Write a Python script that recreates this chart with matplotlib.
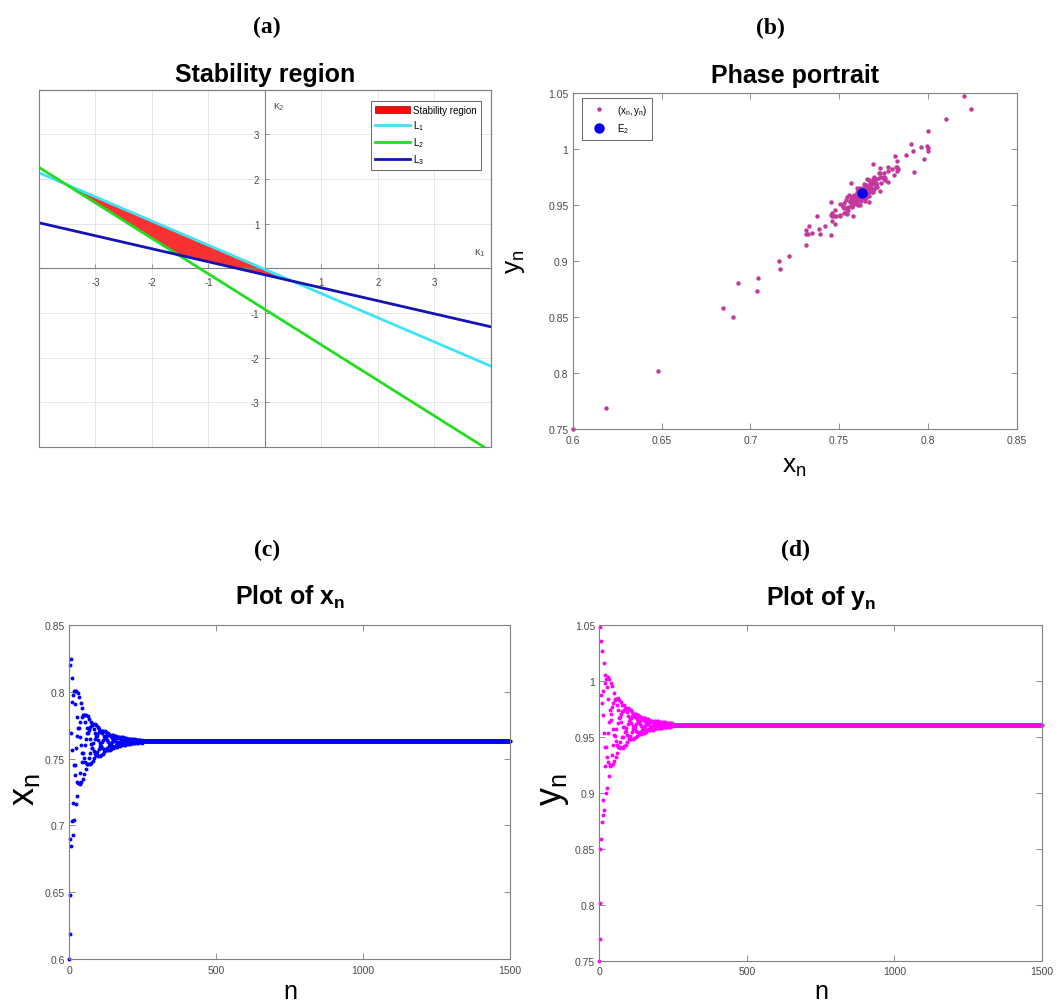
import numpy as np
import matplotlib
matplotlib.use('Agg')
import matplotlib.pyplot as plt
from matplotlib.patches import Patch, Rectangle
from matplotlib.lines import Line2D
from matplotlib.ticker import FormatStrFormatter

# --- Daten (a): Randgeraden und Stabilitaetsdreieck ---
k1_ends = [-4.0, 4.0]
L1_k2 = [2.14, -2.19]
L2_k2 = [2.26, -4.10]
L3_k2 = [1.02, -1.31]
stab_k1 = [-3.52, -1.54, 0.48]
stab_k2 = [1.88, 0.30, -0.285]

# --- Daten (b)-(d): Orbit (x_n, y_n), n = 0..249, danach am Fixpunkt E2 ---
x_head = [
    0.6000, 0.6190, 0.6480, 0.8203, 0.6900, 0.8243, 0.7688, 0.6848, 0.7036, 0.7920,
    0.8103, 0.7566, 0.6929, 0.7167, 0.7978, 0.8003, 0.7453, 0.7042, 0.7453, 0.8003,
    0.7905, 0.7375, 0.7160, 0.7579, 0.8003, 0.7815, 0.7328, 0.7220, 0.7667, 0.7993,
    0.7732, 0.7314, 0.7314, 0.7732, 0.7960, 0.7659, 0.7311, 0.7395, 0.7775, 0.7914,
    0.7599, 0.7326, 0.7475, 0.7811, 0.7876, 0.7543, 0.7350, 0.7543, 0.7824, 0.7824,
    0.7505, 0.7385, 0.7605, 0.7830, 0.7777, 0.7476, 0.7421, 0.7650, 0.7826, 0.7730,
    0.7460, 0.7460, 0.7689, 0.7820, 0.7689, 0.7457, 0.7503, 0.7715, 0.7797, 0.7647,
    0.7458, 0.7542, 0.7737, 0.7776, 0.7612, 0.7470, 0.7580, 0.7752, 0.7752, 0.7580,
    0.7483, 0.7615, 0.7757, 0.7724, 0.7555, 0.7503, 0.7643, 0.7757, 0.7695, 0.7536,
    0.7525, 0.7667, 0.7750, 0.7667, 0.7525, 0.7550, 0.7685, 0.7738, 0.7641, 0.7521,
    0.7575, 0.7698, 0.7723, 0.7619, 0.7522, 0.7598, 0.7707, 0.7707, 0.7598, 0.7528,
    0.7621, 0.7710, 0.7689, 0.7583, 0.7538, 0.7638, 0.7709, 0.7671, 0.7572, 0.7551,
    0.7653, 0.7705, 0.7653, 0.7565, 0.7565, 0.7665, 0.7698, 0.7637, 0.7563, 0.7580,
    0.7673, 0.7688, 0.7623, 0.7563, 0.7596, 0.7678, 0.7678, 0.7610, 0.7567, 0.7610,
    0.7679, 0.7666, 0.7601, 0.7573, 0.7624, 0.7679, 0.7655, 0.7594, 0.7581, 0.7635,
    0.7676, 0.7644, 0.7589, 0.7589, 0.7644, 0.7672, 0.7634, 0.7588, 0.7599, 0.7652,
    0.7666, 0.7626, 0.7589, 0.7609, 0.7657, 0.7660, 0.7618, 0.7591, 0.7618, 0.7660,
    0.7653, 0.7612, 0.7595, 0.7626, 0.7661, 0.7646, 0.7608, 0.7600, 0.7633, 0.7660,
    0.7639, 0.7606, 0.7606, 0.7639, 0.7659, 0.7633, 0.7605, 0.7611, 0.7644, 0.7656,
    0.7627, 0.7605, 0.7617, 0.7647, 0.7653, 0.7623, 0.7606, 0.7623, 0.7649, 0.7649,
    0.7619, 0.7608, 0.7628, 0.7649, 0.7644, 0.7617, 0.7612, 0.7632, 0.7649, 0.7640,
    0.7615, 0.7615, 0.7636, 0.7648, 0.7636, 0.7615, 0.7619, 0.7638, 0.7646, 0.7632,
    0.7614, 0.7622, 0.7640, 0.7644, 0.7628, 0.7615, 0.7625, 0.7641, 0.7641, 0.7625,
    0.7617, 0.7629, 0.7642, 0.7639, 0.7623, 0.7619, 0.7631, 0.7642, 0.7636, 0.7622,
    0.7621, 0.7633, 0.7641, 0.7633, 0.7621, 0.7623, 0.7635, 0.7640, 0.7631, 0.7620,
]
y_head = [
    0.7500, 0.7690, 0.8015, 1.0476, 0.8500, 1.0357, 0.9872, 0.8584, 0.8736, 0.9797,
    1.0268, 0.9698, 0.8805, 0.8933, 0.9911, 1.0162, 0.9531, 0.8847, 0.9237, 0.9980,
    1.0051, 0.9406, 0.9001, 0.9405, 1.0015, 0.9943, 0.9318, 0.9042, 0.9529, 1.0033,
    0.9836, 0.9274, 0.9147, 0.9631, 1.0018, 0.9736, 0.9246, 0.9240, 0.9703, 0.9980,
    0.9652, 0.9244, 0.9336, 0.9767, 0.9949, 0.9570, 0.9255, 0.9422, 0.9802, 0.9894,
    0.9511, 0.9284, 0.9504, 0.9826, 0.9841, 0.9460, 0.9318, 0.9566, 0.9837, 0.9786,
    0.9428, 0.9357, 0.9622, 0.9843, 0.9736, 0.9411, 0.9406, 0.9664, 0.9826, 0.9680,
    0.9401, 0.9452, 0.9702, 0.9809, 0.9632, 0.9405, 0.9498, 0.9731, 0.9786, 0.9586,
    0.9403, 0.9500, 0.9728, 0.9787, 0.9587, 0.9413, 0.9541, 0.9747, 0.9756, 0.9547,
    0.9430, 0.9580, 0.9755, 0.9722, 0.9518, 0.9454, 0.9614, 0.9754, 0.9687, 0.9497,
    0.9480, 0.9643, 0.9747, 0.9654, 0.9483, 0.9509, 0.9666, 0.9736, 0.9621, 0.9477,
    0.9540, 0.9682, 0.9720, 0.9594, 0.9478, 0.9565, 0.9693, 0.9700, 0.9569, 0.9485,
    0.9590, 0.9699, 0.9678, 0.9551, 0.9497, 0.9612, 0.9699, 0.9657, 0.9539, 0.9510,
    0.9629, 0.9694, 0.9636, 0.9529, 0.9527, 0.9643, 0.9687, 0.9615, 0.9526, 0.9545,
    0.9652, 0.9675, 0.9599, 0.9527, 0.9563, 0.9659, 0.9663, 0.9583, 0.9531, 0.9580,
    0.9663, 0.9651, 0.9571, 0.9537, 0.9595, 0.9664, 0.9637, 0.9563, 0.9546, 0.9610,
    0.9660, 0.9625, 0.9559, 0.9557, 0.9620, 0.9657, 0.9612, 0.9556, 0.9568, 0.9629,
    0.9650, 0.9600, 0.9557, 0.9579, 0.9635, 0.9642, 0.9591, 0.9559, 0.9590, 0.9639,
    0.9633, 0.9586, 0.9564, 0.9599, 0.9641, 0.9625, 0.9581, 0.9569, 0.9609, 0.9641,
    0.9616, 0.9577, 0.9576, 0.9615, 0.9640, 0.9609, 0.9575, 0.9583, 0.9621, 0.9637,
    0.9602, 0.9574, 0.9589, 0.9624, 0.9633, 0.9598, 0.9577, 0.9596, 0.9626, 0.9628,
    0.9592, 0.9580, 0.9603, 0.9628, 0.9623, 0.9590, 0.9584, 0.9606, 0.9627, 0.9618,
    0.9587, 0.9587, 0.9611, 0.9627, 0.9611, 0.9586, 0.9590, 0.9614, 0.9624, 0.9608,
    0.9587, 0.9596, 0.9617, 0.9622, 0.9603, 0.9588, 0.9599, 0.9618, 0.9619, 0.9600,
    0.9590, 0.9602, 0.9619, 0.9616, 0.9598, 0.9592, 0.9606, 0.9619, 0.9612, 0.9594,
]
x_star = 0.7630   # Fixpunkt E2
y_star = 0.9605
n_max = 1500

n_vals = np.arange(n_max + 1)
x_n = np.array(x_head + [x_star] * (n_max + 1 - len(x_head)))
y_n = np.array(y_head + [y_star] * (n_max + 1 - len(y_head)))

# --- Stil ---
plt.rcParams['font.family'] = 'Liberation Sans'
plt.rcParams['mathtext.fontset'] = 'custom'
plt.rcParams['mathtext.rm'] = 'Liberation Sans'
plt.rcParams['mathtext.it'] = 'Liberation Sans'
plt.rcParams['mathtext.bf'] = 'Liberation Sans:bold'
plt.rcParams['axes.unicode_minus'] = False

spine_col = '#808080'
tick_col = '#4a4a4a'
serif = 'Liberation Serif'

fig = plt.figure(figsize=(10.59, 10.04), dpi=100)


def matlab_box(ax, xt, yt, lsize=7.5):
    for s in ax.spines.values():
        s.set_color(spine_col)
        s.set_linewidth(0.8)
    ax.set_xticks(xt)
    ax.set_yticks(yt)
    ax.xaxis.set_major_formatter(FormatStrFormatter('%g'))
    ax.yaxis.set_major_formatter(FormatStrFormatter('%g'))
    ax.tick_params(direction='in', top=True, right=True, length=4, width=0.6,
                   color=spine_col, labelcolor=tick_col, labelsize=lsize)
    ax.tick_params(axis='y', pad=3)
    ax.tick_params(axis='x', pad=4)


# ================= (a) Stabilitaetsbereich =================
ax_a = fig.add_axes([0.0368, 0.5538, 0.4268, 0.3559])
ax_a.set_xlim(-4, 4)
ax_a.set_ylim(-4, 4)
ax_a.fill(stab_k1, stab_k2, color='#f83232', zorder=2)
ax_a.plot(k1_ends, L1_k2, color='#3fe3f7', lw=2, zorder=3)
ax_a.plot(k1_ends, L2_k2, color='#22dd22', lw=2, zorder=3)
ax_a.plot(k1_ends, L3_k2, color='#1414b4', lw=2, zorder=3)

ax_a.spines['left'].set_position('zero')
ax_a.spines['bottom'].set_position('zero')
for s in ax_a.spines.values():
    s.set_color(spine_col)
    s.set_linewidth(0.8)
ax_a.add_patch(Rectangle((0, 0), 1, 1, transform=ax_a.transAxes, fill=False,
                         ec=spine_col, lw=0.8, clip_on=False, zorder=5))
ax_a.set_xticks([-3, -2, -1, 1, 2, 3])
ax_a.set_yticks([-3, -2, -1, 1, 2, 3])
ax_a.tick_params(direction='in', length=3, width=0.6, color=spine_col,
                 labelcolor=tick_col, labelsize=7)
ax_a.tick_params(axis='x', pad=6)
ax_a.tick_params(axis='y', pad=4)
ax_a.grid(True, color='#e6e6e6', lw=0.7)
ax_a.set_axisbelow(True)
ax_a.text(0.25, 3.63, r'$\kappa_2$', fontsize=8, color='#555555', ha='center', va='center')
ax_a.text(3.8, 0.36, r'$\kappa_1$', fontsize=8, color='#555555', ha='center', va='center')

leg_handles = [Patch(facecolor='#f80a0a', edgecolor='#a00000', lw=0.5),
               Line2D([], [], color='#3fe3f7', lw=2),
               Line2D([], [], color='#22dd22', lw=2),
               Line2D([], [], color='#1414b4', lw=2)]
leg_a = ax_a.legend(leg_handles, ['Stability region', r'$L_1$', r'$L_2$', r'$L_3$'],
                    loc='upper right', bbox_to_anchor=(1 - 10 / 452, 1 - 11 / 357),
                    borderaxespad=0, fontsize=7, fancybox=False, framealpha=1,
                    edgecolor='#666666', handlelength=3.6, labelspacing=0.35,
                    borderpad=0.4, handletextpad=0.4)
leg_a.get_frame().set_linewidth(0.7)
leg_a.set_zorder(6)

# ================= (b) Phasenportrait =================
ax_b = fig.add_axes([0.5408, 0.5717, 0.4193, 0.3344])
ax_b.plot(x_n, y_n, 'o', ms=3.2, color='#c2399b', mec='none', clip_on=False,
          label=r'$(x_n,y_n)$')
ax_b.plot([x_star], [y_star], 'o', ms=7.5, color='#0000ee', mec='none',
          label=r'$E_2$')
ax_b.set_xlim(0.6, 0.85)
ax_b.set_ylim(0.75, 1.05)
matlab_box(ax_b, [0.6, 0.65, 0.7, 0.75, 0.8, 0.85],
           [0.75, 0.8, 0.85, 0.9, 0.95, 1.0, 1.05])
leg_b = ax_b.legend(loc='upper left', bbox_to_anchor=(9.3 / 444, 1 - 4.7 / 335.7),
                    borderaxespad=0, fontsize=7, fancybox=False, framealpha=1,
                    edgecolor='#666666', handlelength=2.5, labelspacing=0.5,
                    borderpad=0.5, handletextpad=0.6)
leg_b.get_frame().set_linewidth(0.7)

# ================= (c) x_n =================
ax_c = fig.add_axes([0.0654, 0.0438, 0.4161, 0.3327])
ax_c.plot(n_vals, x_n, 'o', ms=2.8, color='#0000ff', mec='none', clip_on=False)
ax_c.set_xlim(0, 1500)
ax_c.set_ylim(0.6, 0.85)
matlab_box(ax_c, [0, 500, 1000, 1500], [0.6, 0.65, 0.7, 0.75, 0.8, 0.85])

# ================= (d) y_n =================
ax_d = fig.add_axes([0.5659, 0.0421, 0.4180, 0.3347])
ax_d.plot(n_vals, y_n, 'o', ms=2.8, color='#ff00ff', mec='none', clip_on=False)
ax_d.set_xlim(0, 1500)
ax_d.set_ylim(0.75, 1.05)
matlab_box(ax_d, [0, 500, 1000, 1500], [0.75, 0.8, 0.85, 0.9, 0.95, 1.0, 1.05])

# --- Titel, Panelbuchstaben, Achsenbeschriftungen ---
fig.text(0.2501, 0.9186, 'Stability region', fontsize=18, fontweight='bold',
         ha='center', va='baseline')
fig.text(0.7507, 0.9170, 'Phase portrait', fontsize=18, fontweight='bold',
         ha='center', va='baseline')
fig.text(0.2738, 0.3974, r'Plot of $\mathbf{x}_\mathbf{n}$', fontsize=18,
         fontweight='bold', ha='center', va='baseline')
fig.text(0.7753, 0.3974, r'Plot of $\mathbf{y}_\mathbf{n}$', fontsize=18,
         fontweight='bold', ha='center', va='baseline')

for xx, yy, lab in [(0.2521, 0.9731, '(a)'), (0.7271, 0.9721, '(b)'),
                    (0.2518, 0.4515, '(c)'), (0.7513, 0.4522, '(d)')]:
    fig.text(xx, yy, lab, fontsize=17, fontweight='bold', family=serif,
             ha='center', va='center')

fig.text(0.7498, 0.5286, r'$x_n$', fontsize=19, ha='center', va='baseline')
fig.text(0.4910, 0.7390, r'$y_n$', fontsize=19, ha='center', va='baseline',
         rotation=90, rotation_mode='anchor')
fig.text(0.2738, 0.0050, 'n', fontsize=18, ha='center', va='baseline')
fig.text(0.7753, 0.0050, 'n', fontsize=18, ha='center', va='baseline')
fig.text(0.0320, 0.2131, r'$x_n$', fontsize=26, ha='center', va='baseline',
         rotation=90, rotation_mode='anchor')
fig.text(0.5300, 0.2131, r'$y_n$', fontsize=26, ha='center', va='baseline',
         rotation=90, rotation_mode='anchor')

fig.savefig('out.png', dpi=100)
